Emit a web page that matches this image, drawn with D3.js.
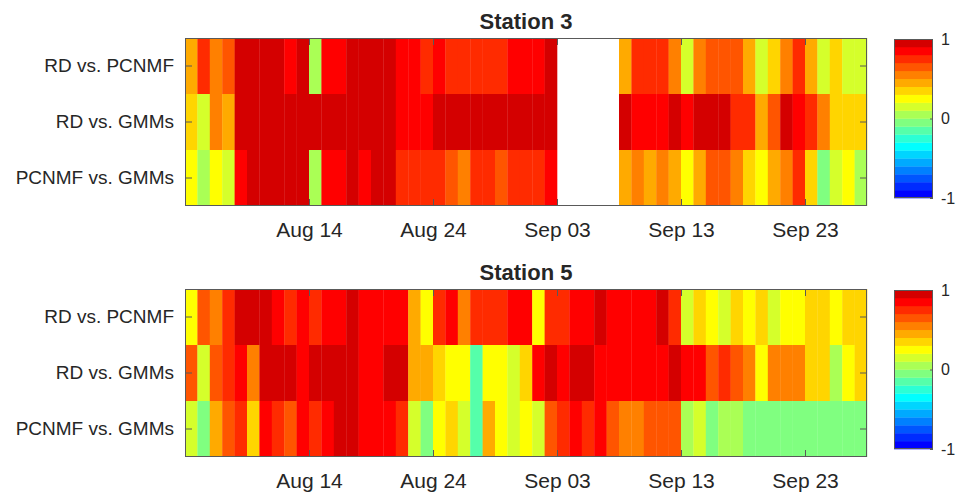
<!DOCTYPE html>
<html>
<head>
<meta charset="utf-8">
<script src="https://cdn.jsdelivr.net/npm/d3@7"></script>
<style>
  body { margin: 0; background: #fff; }
  text { font-family: Arial, "Liberation Sans", Helvetica, sans-serif; fill: #262626; }
</style>
</head>
<body>
<div id="chart"></div>
<script>
// row labels (top to bottom)
var pairs = ["RD vs. PCNMF", "RD vs. GMMs", "PCNMF vs. GMMs"];

// one column per day, first day and number of days
var firstDay = "2017-08-04";
var nDays = 55;
var tickDays = ["2017-08-14", "2017-08-24", "2017-09-03", "2017-09-13", "2017-09-23"];

// Station 3 correlations (null = no data)
var s3RdPcnmf = [0.45,0.75,0.55,0.65,0.95,0.95,0.95,0.95,0.85,0.95,
  0.05,0.85,0.85,0.95,0.95,0.95,0.95,0.85,0.85,0.75,
  0.85,0.75,0.75,0.75,0.75,0.75,0.85,0.85,0.85,0.95,
  null,null,null,null,null,0.45,0.75,0.75,0.75,0.55,
  0.15,0.55,0.65,0.65,0.65,0.45,0.15,0.35,0.55,0.75,
  0.45,0.15,0.35,0.15,0.15];
var s3RdGmms = [0.35,0.15,0.55,0.45,0.95,0.95,0.95,0.95,0.95,0.95,
  0.95,0.95,0.95,0.95,0.95,0.95,0.95,0.85,0.85,0.85,
  0.95,0.95,0.95,0.95,0.95,0.95,0.95,0.95,0.95,0.95,
  null,null,null,null,null,0.95,0.85,0.85,0.85,0.95,
  0.85,0.95,0.95,0.95,0.75,0.75,0.45,0.65,0.95,0.85,
  0.75,0.55,0.35,0.35,0.35];
var s3PcnmfGmms = [0.25,0.05,0.25,0.15,0.85,0.95,0.95,0.95,0.95,0.95,
  0.05,0.85,0.85,0.95,0.85,0.95,0.95,0.75,0.75,0.75,
  0.75,0.65,0.55,0.75,0.75,0.65,0.75,0.75,0.75,0.85,
  null,null,null,null,null,0.45,0.55,0.45,0.55,0.45,
  0.25,0.45,0.65,0.65,0.55,0.35,0.25,0.45,0.55,0.75,
  0.35,-0.05,0.15,0.25,0.05];

// Station 5 correlations
var s5RdPcnmf = [0.25,0.65,0.55,0.75,0.95,0.95,0.95,0.85,0.75,0.85,
  0.75,0.85,0.85,0.95,0.85,0.85,0.85,0.85,0.45,0.25,
  0.75,0.85,0.55,0.75,0.75,0.75,0.85,0.85,0.25,0.75,
  0.75,0.85,0.85,0.95,0.85,0.85,0.85,0.85,0.95,0.75,
  0.15,0.35,0.25,0.15,0.35,0.25,0.35,0.15,0.25,0.25,
  0.35,0.35,0.25,0.35,0.35];
var s5RdGmms = [0.65,0.15,0.65,0.75,0.85,0.55,0.95,0.95,0.95,0.85,
  0.95,0.95,0.95,0.95,0.85,0.85,0.95,0.95,0.45,0.45,
  0.35,0.25,0.25,-0.15,0.25,0.25,0.15,0.35,0.85,0.95,
  0.85,0.95,0.95,0.85,0.85,0.85,0.85,0.85,0.85,0.95,
  0.85,0.85,0.65,0.75,0.65,0.55,0.25,0.55,0.55,0.55,
  0.35,0.35,0.05,0.25,0.35];
var s5PcnmfGmms = [0.15,-0.05,0.45,0.65,0.75,0.35,0.85,0.75,0.65,0.85,
  0.75,0.85,0.95,0.95,0.85,0.85,0.85,0.75,0.15,-0.05,
  0.25,0.35,0.15,-0.15,0.45,0.25,0.15,0.25,0.15,0.65,
  0.75,0.85,0.75,0.85,0.65,0.55,0.55,0.65,0.65,0.65,
  0.05,0.15,-0.05,0.05,0.05,-0.05,-0.05,-0.05,-0.05,-0.05,
  -0.05,-0.05,-0.05,-0.05,-0.05];

var stations = ["Station 3", "Station 5"];
var cbTicks = [-1, 0, 1];

// 20 step colormap from -1 (blue) to 1 (dark red)
var colors = ["#0000ff","#002bff","#0055ff","#0080ff","#00aaff","#00d5ff","#00ffff","#2bffd5",
  "#55ffaa","#80ff80","#aaff55","#d5ff2b","#ffff00","#ffd500","#ffaa00","#ff8000",
  "#ff5500","#ff2b00","#ff0000","#d40000"];

var width = 956, height = 492;
var left = 185, right = 867;
var panelTops = [38, 289];
var panelH = 168;
var cbX = 894, cbW = 39;
var cbTops = [39, 290], cbH = 159;
var frameColor = "#595959";

var parseDay = d3.utcParse("%Y-%m-%d");
var start = parseDay(firstDay);
var days = d3.utcDay.range(start, d3.utcDay.offset(start, nDays));

var color = d3.scaleQuantize().domain([-1, 1]).range(colors);

var x = d3.scaleUtc()
  .domain([start, d3.utcDay.offset(start, nDays)])
  .range([left, right]);

var svg = d3.select("#chart").append("svg")
  .attr("width", width)
  .attr("height", height);

var data = [
  [s3RdPcnmf, s3RdGmms, s3PcnmfGmms],
  [s5RdPcnmf, s5RdGmms, s5PcnmfGmms]
];

data.forEach(function(rows, p) {
  var top = panelTops[p];
  var y = d3.scaleBand().domain(pairs).range([top, top + panelH]);
  var g = svg.append("g");

  // cells
  rows.forEach(function(vals, r) {
    g.selectAll(null)
      .data(vals.map(function(v, i) { return {v: v, day: days[i]}; })
        .filter(function(d) { return d.v !== null; }))
      .enter().append("rect")
        .attr("x", function(d) { return x(d.day); })
        .attr("width", function(d) { return x(d3.utcDay.offset(d.day, 1)) - x(d.day) + 0.3; })
        .attr("y", y(pairs[r]))
        .attr("height", y.bandwidth())
        .attr("fill", function(d) { return color(d.v); });
  });

  // x axes (ticks pointing inward, top and bottom)
  var ticks = tickDays.map(parseDay);
  var xb = g.append("g")
    .attr("transform", "translate(0," + (top + panelH) + ")")
    .call(d3.axisBottom(x).tickValues(ticks).tickFormat(d3.utcFormat("%b %d"))
      .tickSize(-7).tickPadding(16));
  var xt = g.append("g")
    .attr("transform", "translate(0," + top + ")")
    .call(d3.axisTop(x).tickValues(ticks).tickFormat("").tickSize(-7));

  // y axes
  var yl = g.append("g")
    .attr("transform", "translate(" + left + ",0)")
    .call(d3.axisLeft(y).tickSize(-7).tickPadding(11));
  var yr = g.append("g")
    .attr("transform", "translate(" + right + ",0)")
    .call(d3.axisRight(y).tickFormat("").tickSize(-7));

  [xb, xt, yl, yr].forEach(function(a) {
    a.select(".domain").remove();
    a.selectAll("line").attr("stroke", frameColor);
    a.selectAll("text").attr("fill", "#262626").style("font-size", "21px");
  });
  yl.selectAll("text").style("font-size", "19px");

  // frame
  g.append("rect")
    .attr("x", left + 0.5).attr("y", top + 0.5)
    .attr("width", right - left - 1).attr("height", panelH - 1)
    .attr("fill", "none").attr("stroke", frameColor);

  // title
  g.append("text")
    .attr("x", (left + right) / 2)
    .attr("y", top - 9)
    .attr("text-anchor", "middle")
    .style("font-size", "22px")
    .style("font-weight", "bold")
    .text(stations[p]);

  // colorbar
  var cTop = cbTops[p];
  var cy = d3.scaleLinear().domain([-1, 1]).range([cTop + cbH, cTop]);
  var cb = svg.append("g");
  cb.selectAll("rect")
    .data(colors)
    .enter().append("rect")
      .attr("x", cbX)
      .attr("width", cbW)
      .attr("y", function(c, i) { return cy(-1 + (i + 1) * 0.1); })
      .attr("height", function(c, i) { return cy(-1 + i * 0.1) - cy(-1 + (i + 1) * 0.1) + 0.3; })
      .attr("fill", function(c) { return c; });
  cb.append("rect")
    .attr("x", cbX + 0.5).attr("y", cTop + 0.5)
    .attr("width", cbW - 1).attr("height", cbH - 1)
    .attr("fill", "none").attr("stroke", frameColor);
  var ca = cb.append("g")
    .attr("transform", "translate(" + (cbX + cbW) + ",0)")
    .call(d3.axisRight(cy).tickValues(cbTicks).tickFormat(function(d) { return String(d); })
      .tickSize(-3).tickPadding(8));
  ca.select(".domain").remove();
  ca.selectAll("line").attr("stroke", frameColor);
  ca.selectAll("text").attr("fill", "#262626").style("font-size", "16px");
});
</script>
</body>
</html>
